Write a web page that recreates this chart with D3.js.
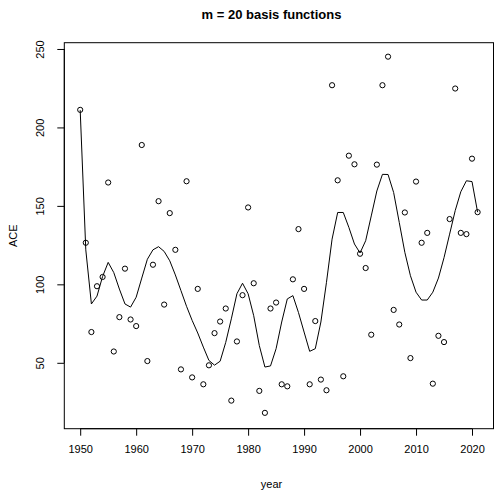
<!DOCTYPE html>
<html>
<head>
<meta charset="utf-8">
<script src="https://cdn.jsdelivr.net/npm/d3@7"></script>
<style>
  html, body { margin: 0; padding: 0; background: #fff; }
  svg { display: block; }
  text { font-family: "Liberation Sans", Arial, Helvetica, sans-serif; fill: #000; }
</style>
</head>
<body>
<svg id="chart" width="495" height="490"></svg>
<script>
const years = d3.range(1950, 2022);
const ace = [211.2, 126.5, 69.6, 98.8, 104.7, 164.9, 57.2, 79.1, 110, 77.6,
  73.4, 188.8, 51.1, 112.5, 153, 87.1, 145.4, 122, 45.8, 165.7,
  40.7, 97.1, 36.3, 48.4, 68.9, 76.3, 84.6, 25.9, 63.6, 93.1,
  149, 100.7, 32.1, 18.1, 84.6, 88.4, 36.3, 35, 103.2, 135.2,
  97.1, 36.3, 76.6, 39.3, 32.5, 226.9, 166.3, 41.4, 182, 176.5,
  119.5, 110.4, 67.9, 176.3, 226.9, 245.1, 83.7, 74.4, 145.8, 53,
  165.5, 126.5, 132.8, 36.7, 67.2, 63.2, 141.6, 224.8, 132.8, 132,
  180.1, 146];
const fitted = [211, 122, 87.5, 92.5, 105, 114, 107.5, 97, 87.5, 85.5,
  91.8, 104, 116, 122, 124, 121, 115, 106, 96, 86,
  77, 69, 60, 51.5, 48.5, 51, 63, 78, 94, 100.7,
  94, 80, 61, 47.3, 48, 59, 76, 90.7, 92.8, 82,
  69.6, 57.3, 59, 76, 101.3, 128.8, 145.8, 145.8, 136.3, 125.7,
  120, 127.8, 143.6, 159.5, 170.1, 170, 158.5, 139.5, 120.4, 105.5,
  95, 90, 90, 95, 104, 117, 132, 147, 159, 166,
  165.5, 146];
const xTicks = [1950, 1960, 1970, 1980, 1990, 2000, 2010, 2020];
const yTicks = [50, 100, 150, 200, 250];
const title = "m = 20 basis functions";
const xLabel = "year";
const yLabel = "ACE";

const svg = d3.select("#chart");
const L = 64.3, R = 493.5, T = 42.7, B = 428.7;
const x = d3.scaleLinear().domain([1947.16, 2023.84]).range([L, R]);
const y = d3.scaleLinear().domain([8, 254]).range([B, T]);

// box
svg.append("rect").attr("x", L).attr("y", T).attr("width", R - L).attr("height", B - T)
  .attr("fill", "none").attr("stroke", "#000").attr("stroke-width", 1);

// x axis
const xAxis = svg.append("g").attr("transform", `translate(0,${B})`)
  .call(d3.axisBottom(x).tickValues(xTicks).tickFormat(d3.format("d")).tickSizeOuter(0).tickSize(7).tickPadding(10));
xAxis.select(".domain").attr("d", `M${x(1950)},0H${x(2020)}`);
xAxis.selectAll("text").attr("font-size", 11).attr("font-family", "Liberation Sans, Arial, sans-serif");

// y axis
const yAxis = svg.append("g").attr("transform", `translate(${L},0)`)
  .call(d3.axisLeft(y).tickValues(yTicks).tickSizeOuter(0).tickSize(7).tickPadding(0));
yAxis.select(".domain").attr("d", `M0,${y(50)}V${y(250)}`);
yAxis.selectAll("text").remove();
yAxis.selectAll(".tick").append("text")
  .attr("transform", "translate(-24,0) rotate(-90)")
  .attr("text-anchor", "middle").attr("dy", "0.35em")
  .attr("font-size", 11).attr("fill", "#000")
  .text(d => d);

// line
const line = d3.line().x((d, i) => x(years[i])).y(d => y(d));
svg.append("path").datum(fitted).attr("d", line)
  .attr("fill", "none").attr("stroke", "#000").attr("stroke-width", 1);

// points
svg.append("g").selectAll("circle").data(ace).join("circle")
  .attr("cx", (d, i) => x(years[i])).attr("cy", d => y(d)).attr("r", 2.6)
  .attr("fill", "none").attr("stroke", "#000").attr("stroke-width", 1);

// labels
svg.append("text").attr("x", 271.5).attr("y", 19).attr("text-anchor", "middle")
  .attr("font-size", 13).attr("font-weight", "bold").text(title);
svg.append("text").attr("x", 271.5).attr("y", 488).attr("text-anchor", "middle")
  .attr("font-size", 11).text(xLabel);
svg.append("text").attr("transform", `translate(17,${(T + B) / 2}) rotate(-90)`)
  .attr("text-anchor", "middle").attr("font-size", 11).text(yLabel);
</script>
</body>
</html>
